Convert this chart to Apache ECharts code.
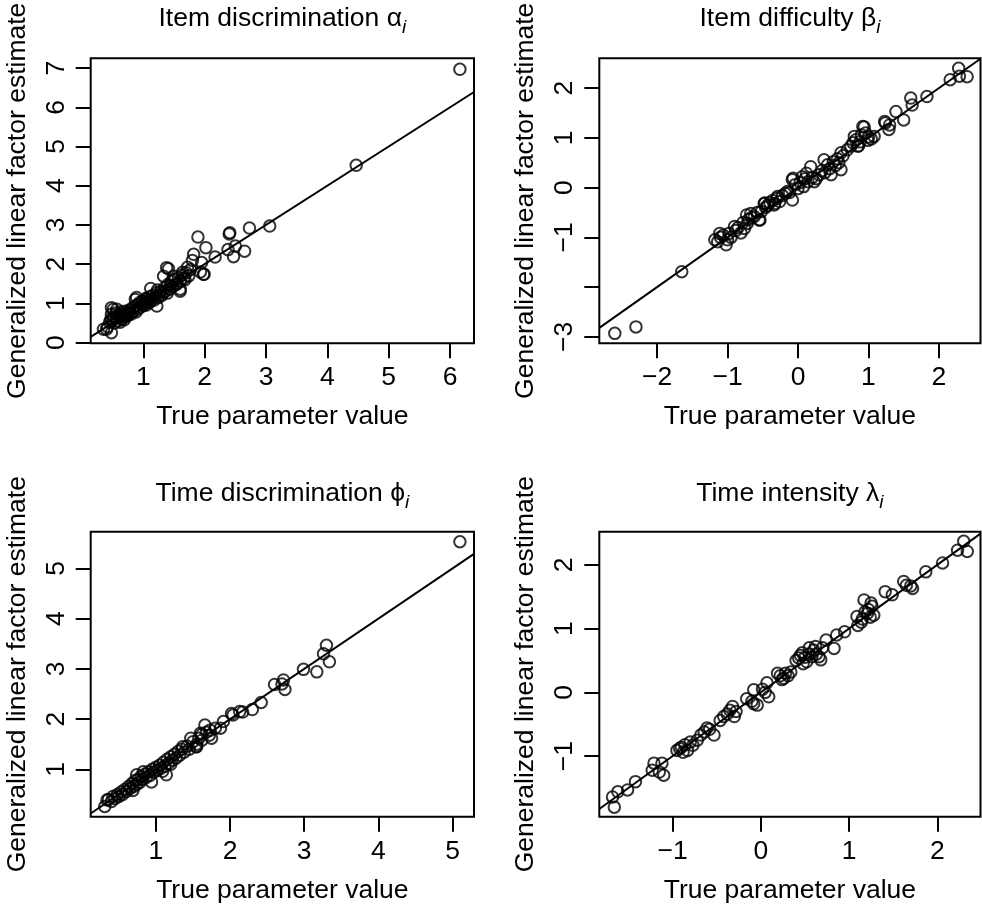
<!DOCTYPE html>
<html><head><meta charset="utf-8">
<script src="https://cdn.jsdelivr.net/npm/echarts@6/dist/echarts.min.js"></script>
<style>html,body{margin:0;padding:0;background:#fff}#c{width:982px;height:907px}</style>
</head><body><div id="c"></div>
<script>
// ---- DATA ----
const titles = ['Item discrimination ', 'Item difficulty ', 'Time discrimination ', 'Time intensity '];
const greek = ['\u03B1', '\u03B2', '\u03D5', '\u03BB'];
const xName = 'True parameter value';
const yName = 'Generalized linear factor estimate';

const alphaRange = { x: [0.142, 6.39], y: [-0.02, 7.25] };
const betaRange = { x: [-2.82, 2.59], y: [-3.13, 2.60] };
const phiRange = { x: [0.12, 5.29], y: [0.057, 5.73] };
const lambdaRange = { x: [-1.83, 2.49], y: [-1.95, 2.52] };

const alphaXTicks = [1, 2, 3, 4, 5, 6];
const alphaYTicks = [0, 1, 2, 3, 4, 5, 6, 7];
const betaXTicks = [-2, -1, 0, 1, 2];
const betaYTicks = [-3, -2, -1, 0, 1, 2];
const betaYLabels = [-3, -1, 0, 1, 2];
const phiXTicks = [1, 2, 3, 4, 5];
const phiYTicks = [1, 2, 3, 4, 5];
const lambdaXTicks = [-1, 0, 1, 2];
const lambdaYTicks = [-1, 0, 1, 2];

const refLine = { intercept: 0, slope: 1 };

const alphaPoints = [
[6.16,6.97],[4.47,4.52],[3.06,2.97],[2.73,2.92],[2.40,2.77],[2.41,2.80],[2.50,2.46],[2.38,2.37],[2.65,2.33],[2.47,2.19],
[2.17,2.18],[2.02,2.42],[1.89,2.69],[1.82,2.25],[1.95,2.04],[1.99,1.74],[1.93,1.80],[1.80,2.09],[1.72,1.92],[1.64,1.79],
[1.60,1.36],[1.41,1.88],[1.33,1.69],[1.49,1.69],[1.68,1.60],[1.44,1.45],[1.55,1.51],[1.39,1.26],[1.23,1.34],[1.12,1.38],
[1.22,0.93],[1.06,1.10],[0.87,1.10],[0.51,0.85],[0.40,0.34],[0.48,0.25],[0.35,0.34],[1.38,1.91],[1.98,1.74],[1.60,1.31],
[0.89,1.15],[0.48,0.89],[0.42,0.40],[0.45,0.52],[0.47,0.60],[0.48,0.72],[0.50,0.58],[0.52,0.66],[0.53,0.50],[0.55,0.75],
[0.56,0.62],[0.58,0.55],[0.60,0.70],[0.61,0.64],[0.63,0.78],[0.65,0.60],[0.66,0.72],[0.68,0.68],[0.70,0.80],[0.72,0.66],
[0.73,0.75],[0.75,0.70],[0.77,0.82],[0.78,0.76],[0.80,0.72],[0.82,0.88],[0.84,0.80],[0.86,0.92],[0.88,0.78],[0.90,0.96],
[0.92,0.86],[0.94,1.02],[0.95,0.90],[0.97,0.98],[0.99,1.06],[1.00,0.94],[1.02,1.00],[1.04,1.12],[1.05,0.96],[1.07,1.04],
[1.09,1.16],[1.10,1.02],[1.13,1.10],[1.15,1.20],[1.17,1.08],[1.19,1.16],[1.21,1.26],[1.24,1.14],[1.26,1.22],[1.28,1.30],
[1.30,1.20],[1.33,1.28],[1.35,1.40],[1.37,1.32],[1.40,1.48],[1.43,1.36],[1.46,1.56],[1.48,1.42],[1.51,1.60],[1.54,1.48],
[1.57,1.66],[1.60,1.56],[1.63,1.72],[1.66,1.64],[1.70,1.78],[1.74,1.70],[1.77,1.86],[0.57,0.85],[0.62,0.52],[0.69,0.58]
];

const betaPoints = [
[-2.60,-2.93],[-2.30,-2.80],[-1.65,-1.69],[-1.14,-1.09],[-1.02,-1.15],[-0.90,-0.78],[-0.81,-0.91],[2.28,2.40],[2.40,2.23],[2.29,2.24],
[2.16,2.17],[1.83,1.83],[1.60,1.80],[1.62,1.66],[1.39,1.53],[1.50,1.36],[1.24,1.30],[1.29,1.17],[1.30,1.26],[1.08,1.03],
[0.94,1.22],[0.99,0.95],[0.80,1.03],[0.85,0.83],[0.75,0.83],[0.61,0.70],[0.61,0.36],[0.47,0.26],[0.37,0.56],[0.18,0.42],
[0.23,0.12],[0.06,0.22],[-0.08,0.16],[-0.08,-0.25],[-0.15,-0.08],[-0.29,-0.18],[-0.34,-0.35],[-0.48,-0.32],[-0.55,-0.65],[-0.67,-0.52],
[-0.72,-0.72],[-1.18,-1.05],[-1.11,-0.92],[-0.73,-0.55],[-0.54,-0.65],[-0.47,-0.31],[-0.07,0.19],[0.12,0.29],[1.23,1.33],[0.92,1.23],
[-1.10,-1.00],[-1.06,-0.96],[-1.00,-1.05],[-0.98,-0.92],[-0.95,-1.00],[-0.88,-0.86],[-0.85,-0.80],[-0.78,-0.70],[-0.76,-0.82],[-0.70,-0.64],
[-0.66,-0.60],[-0.62,-0.58],[-0.58,-0.50],[-0.52,-0.48],[-0.46,-0.40],[-0.43,-0.36],[-0.40,-0.30],[-0.36,-0.26],[-0.33,-0.32],[-0.30,-0.22],
[-0.26,-0.28],[-0.22,-0.16],[-0.18,-0.12],[-0.12,-0.10],[-0.04,0.06],[0.00,-0.02],[0.03,0.10],[0.08,0.02],[0.10,0.18],[0.14,0.12],
[0.20,0.20],[0.26,0.18],[0.30,0.26],[0.34,0.34],[0.38,0.30],[0.42,0.46],[0.45,0.38],[0.50,0.52],[0.53,0.44],[0.56,0.58],
[0.58,0.50],[0.64,0.64],[0.70,0.76],[0.78,0.90],[0.82,0.96],[0.88,0.92],[0.90,1.06],[0.96,1.10],[1.00,1.02],[1.04,0.98],[0.86,0.84]
];

const phiPoints = [
[5.10,5.53],[3.30,3.47],[3.26,3.30],[3.34,3.14],[3.17,2.94],[2.99,2.99],[2.72,2.78],[2.74,2.59],[2.60,2.69],[2.70,2.70],
[2.42,2.33],[2.30,2.19],[2.17,2.14],[2.04,2.08],[2.02,2.11],[1.91,1.95],[1.87,1.82],[1.66,1.88],[1.73,1.78],[1.75,1.62],
[1.60,1.72],[1.54,1.45],[1.47,1.62],[1.36,1.45],[1.09,0.96],[0.94,0.75],[0.69,0.58],[0.31,0.26],[0.34,0.39],[1.14,0.89],
[0.74,0.89],[1.55,1.45],[2.13,2.15],[0.36,0.40],[0.40,0.36],[0.42,0.46],[0.45,0.42],[0.48,0.50],[0.50,0.46],[0.53,0.55],
[0.55,0.50],[0.58,0.60],[0.60,0.56],[0.63,0.66],[0.65,0.62],[0.68,0.72],[0.70,0.66],[0.72,0.78],[0.74,0.70],[0.76,0.80],
[0.78,0.74],[0.80,0.86],[0.82,0.80],[0.85,0.90],[0.87,0.84],[0.90,0.95],[0.92,0.88],[0.95,1.00],[0.97,0.94],[1.00,1.04],
[1.02,0.98],[1.05,1.08],[1.07,1.02],[1.10,1.14],[1.12,1.06],[1.15,1.20],[1.17,1.12],[1.20,1.25],[1.22,1.18],[1.25,1.30],
[1.27,1.22],[1.30,1.36],[1.32,1.28],[1.35,1.40],[1.38,1.34],[1.42,1.46],[1.45,1.40],[1.50,1.55],[1.55,1.50],[1.58,1.62],
[1.62,1.58],[1.68,1.74],[1.72,1.68],[1.80,1.82],[1.62,1.70],[0.83,0.95],[1.20,1.10]
];

const lambdaPoints = [
[2.30,2.37],[2.34,2.21],[2.23,2.23],[2.06,2.03],[1.87,1.89],[1.62,1.74],[1.70,1.67],[1.72,1.63],[1.41,1.58],[1.49,1.53],
[1.17,1.45],[1.25,1.40],[1.28,1.21],[1.21,1.24],[1.09,1.19],[1.10,1.05],[0.95,0.95],[0.86,0.90],[0.74,0.82],[0.83,0.69],
[0.68,0.51],[0.62,0.72],[0.47,0.62],[0.43,0.54],[0.26,0.22],[0.19,0.30],[0.07,0.15],[0.09,-0.07],[-0.08,0.04],[-0.08,-0.18],
[-0.16,-0.10],[-0.04,-0.20],[-0.30,-0.38],[-0.32,-0.22],[-0.42,-0.38],[-0.53,-0.67],[-0.61,-0.56],[-0.68,-0.67],[-0.77,-0.83],[-0.83,-0.91],
[-0.90,-0.86],[-0.95,-0.91],[-1.21,-1.11],[-1.23,-1.22],[-1.15,-1.25],[-1.10,-1.30],[-1.12,-1.11],[-1.42,-1.40],[-1.51,-1.53],[-1.62,-1.56],
[-1.68,-1.64],[-1.66,-1.80],[0.40,0.50],[0.45,0.58],[0.50,0.55],[0.52,0.48],[0.55,0.60],[0.58,0.56],[0.60,0.66],[0.63,0.60],
[0.66,0.56],[0.70,0.70],[0.55,0.70],[0.48,0.45],[0.22,0.26],[0.28,0.30],[0.31,0.26],[0.24,0.20],[0.34,0.32],[0.02,0.05],
[0.05,0.00],[-0.10,-0.14],[-0.35,-0.28],[-0.38,-0.34],[-0.46,-0.44],[-0.58,-0.58],[-0.64,-0.62],[-0.72,-0.75],[-0.80,-0.78],[-0.86,-0.82],
[-0.92,-0.88],[-0.88,-0.94],[1.15,1.15],[1.18,1.26],[1.22,1.30],[1.24,1.18],[1.26,1.35],[1.14,1.10],[1.65,1.68],[-0.28,-0.30]
];

// ---- LAYOUT ----
const FONT = "'Liberation Sans', Arial, Helvetica, sans-serif";
const FS = 26.5;
const boxes = [
  { left: 90.7, top: 58.3, width: 383.3, height: 285 },
  { left: 599.3, top: 58.3, width: 381.2, height: 285 },
  { left: 90.7, top: 531.7, width: 383.3, height: 285 },
  { left: 599.3, top: 531.7, width: 381.2, height: 285 }
];
const titleTops = [5, 5, 480, 480];

const panels = [
  { r: alphaRange, xt: alphaXTicks, yt: alphaYTicks, yl: alphaYTicks, pts: alphaPoints },
  { r: betaRange, xt: betaXTicks, yt: betaYTicks, yl: betaYLabels, pts: betaPoints },
  { r: phiRange, xt: phiXTicks, yt: phiYTicks, yl: phiYTicks, pts: phiPoints },
  { r: lambdaRange, xt: lambdaXTicks, yt: lambdaYTicks, yl: lambdaYTicks, pts: lambdaPoints }
];

const fmt = v => String(v).replace('-', '\u2212');
const textBase = { color: '#000', fontFamily: FONT, fontSize: FS, fontWeight: 'normal' };
const LW = 2;

const option = {
  animation: false,
  backgroundColor: '#fff',
  title: panels.map((p, i) => ({
    left: boxes[i].left + boxes[i].width / 2,
    top: titleTops[i],
    textAlign: 'center',
    padding: 0,
    text: '{a|' + titles[i] + greek[i] + '}{s|i}',
    textStyle: {
      fontWeight: 'normal',
      rich: {
        a: { color: '#000', fontFamily: FONT, fontSize: FS, fontWeight: 'normal', lineHeight: 32, verticalAlign: 'top' },
        s: { color: '#000', fontFamily: FONT, fontSize: 19, fontWeight: 'normal', fontStyle: 'italic', lineHeight: 20, verticalAlign: 'bottom' }
      }
    }
  })),
  grid: boxes.map(b => Object.assign({}, b, {
    show: true, borderColor: '#000', borderWidth: LW, backgroundColor: 'transparent',
    containLabel: false, outerBoundsMode: 'none'
  })),
  xAxis: panels.map((p, i) => ({
    type: 'value', gridIndex: i, min: p.r.x[0], max: p.r.x[1],
    axisLine: { show: false, onZero: false }, splitLine: { show: false },
    axisTick: { show: true, length: 15, inside: false, lineStyle: { color: '#000', width: LW }, customValues: p.xt },
    axisLabel: Object.assign({ customValues: p.xt, margin: 21, formatter: fmt, showMinLabel: true, showMaxLabel: true, hideOverlap: false }, textBase),
    name: xName, nameLocation: 'middle', nameGap: 60,
    nameTextStyle: textBase
  })),
  yAxis: panels.map((p, i) => ({
    type: 'value', gridIndex: i, min: p.r.y[0], max: p.r.y[1],
    axisLine: { show: false, onZero: false }, splitLine: { show: false },
    axisTick: { show: true, length: 15, inside: false, lineStyle: { color: '#000', width: LW }, customValues: p.yt },
    axisLabel: Object.assign({ customValues: p.yl, margin: 21, rotate: 90, formatter: fmt, showMinLabel: true, showMaxLabel: true, hideOverlap: false }, textBase),
    name: yName, nameLocation: 'middle', nameGap: 60,
    nameTextStyle: textBase
  })),
  series: []
};

panels.forEach((p, i) => {
  const x0 = p.r.x[0], x1 = p.r.x[1];
  option.series.push({
    type: 'line', xAxisIndex: i, yAxisIndex: i, silent: true, symbol: 'none', clip: true,
    data: [[x0, refLine.intercept + refLine.slope * x0], [x1, refLine.intercept + refLine.slope * x1]],
    lineStyle: { color: '#000', width: LW }, z: 2
  });
  option.series.push({
    type: 'scatter', xAxisIndex: i, yAxisIndex: i, silent: true, clip: false,
    data: p.pts, symbol: 'circle', symbolSize: 11.5,
    itemStyle: { color: 'rgba(0,0,0,0)', borderColor: '#000', borderWidth: 2 }, z: 3
  });
});

const chart = echarts.init(document.getElementById('c'), null, { renderer: 'canvas' });
chart.setOption(option);
</script></body></html>
